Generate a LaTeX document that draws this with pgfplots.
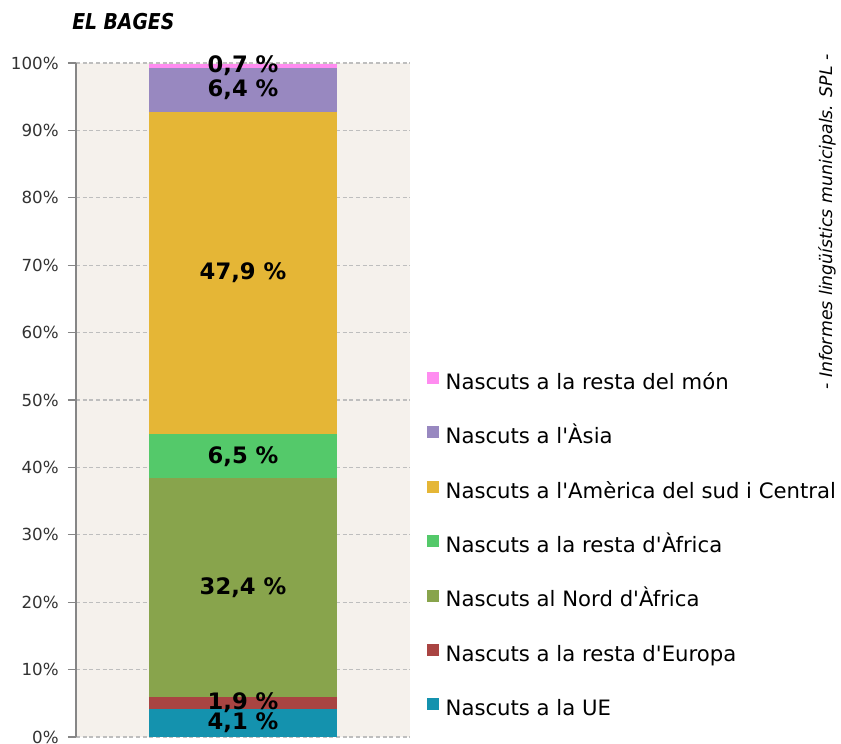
\documentclass[border=0pt]{standalone}
\usepackage{fontspec}
\setmainfont{DejaVu Sans}[Ligatures=TeXOff]
\newfontfamily\titlefont{DejaVu Sans}[FakeStretch=0.86]
\usepackage{pgfplots}
\pgfplotsset{compat=1.18}
\definecolor{cUE}{RGB}{20,146,174}
\definecolor{cEur}{RGB}{169,68,66}
\definecolor{cNAf}{RGB}{136,164,76}
\definecolor{cAf}{RGB}{84,201,106}
\definecolor{cAm}{RGB}{229,182,54}
\definecolor{cAs}{RGB}{152,136,192}
\definecolor{cMon}{RGB}{255,140,240}
\definecolor{bgc}{RGB}{245,241,236}
\definecolor{axisgray}{RGB}{134,134,134}
\definecolor{gridgray}{RGB}{190,190,190}
\definecolor{ticktext}{RGB}{50,50,50}
\begin{document}
\begin{tikzpicture}
\useasboundingbox (0,0) rectangle (630.75pt,557.25pt);
\begin{axis}[
  at={(57pt,4.5pt)}, anchor=south west,
  scale only axis, width=250.5pt, height=505.5pt,
  ybar stacked, bar width=1.1317,
  xmin=-1, xmax=1, ymin=0, ymax=100,
  axis x line=none, axis y line=left,
  y axis line style={-, draw=axisgray, line width=0.8pt},
  ytick={0,10,...,100},
  yticklabel={\pgfmathprintnumber{\tick}\%},
  yticklabel style={font=\fontsize{12.5}{14}\selectfont, text=ticktext, xshift=-3.5pt},
  /pgf/number format/assume math mode=true,
  tick align=outside, major tick length=6pt,
  ytick style={draw=axisgray, line width=0.8pt},
  ymajorgrids,
  major grid style={draw=gridgray, line width=0.8pt, dash pattern=on 3pt off 2pt},
  axis background/.style={fill=bgc},
  clip=false,
  nodes near coords={\pgfmathprintnumber[fixed,precision=1,fixed zerofill,use comma]{\pgfplotspointmeta}~\%},
  nodes near coords style={font=\fontsize{17}{20}\selectfont\bfseries, text=black, anchor=center},
  reverse legend,
  legend cell align=left,
  legend style={at={(1.0509,0.5416)}, anchor=north west, draw=none, fill=none,
    inner sep=0pt, outer sep=0pt, row sep=23.8pt, column sep=5pt,
    font=\fontsize{15.9}{18}\selectfont,
    nodes={inner sep=0pt, text height=12pt, text depth=4pt}},
  legend image code/.code={\fill[#1, draw=none] (0pt,0pt) rectangle (9pt,9pt);},
]
\addplot[fill=cUE, draw=none] coordinates {(0,4.1)};
\addplot[fill=cEur, draw=none] coordinates {(0,1.9)};
\addplot[fill=cNAf, draw=none] coordinates {(0,32.4)};
\addplot[fill=cAf, draw=none] coordinates {(0,6.5)};
\addplot[fill=cAm, draw=none] coordinates {(0,47.9)};
\addplot[fill=cAs, draw=none] coordinates {(0,6.4)};
\addplot[fill=cMon, draw=none] coordinates {(0,0.7)};
\legend{Nascuts a la UE, Nascuts a la resta d'Europa, Nascuts al Nord d'Àfrica, Nascuts a la resta d'Àfrica, Nascuts a l'Amèrica del sud i Central, Nascuts a l'Àsia, Nascuts a la resta del món}
\end{axis}
\node[anchor=base west, inner sep=0pt, font=\titlefont\fontsize{16.4}{19}\selectfont\bfseries\itshape] at (54pt,534.75pt) {EL BAGES};
\node[rotate=90, inner sep=0pt, font=\fontsize{13}{15}\selectfont\itshape] at (620.25pt,390.75pt) {- Informes lingüístics municipals. SPL -};
\end{tikzpicture}
\end{document}
